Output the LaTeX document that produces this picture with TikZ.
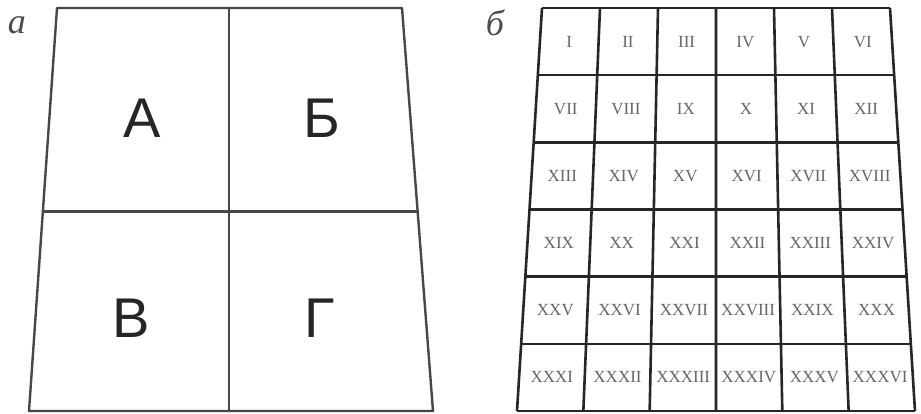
\documentclass[tikz,border=0pt]{standalone}
\usepackage{fontspec}
\setmainfont{Liberation Serif}
\newfontfamily\cyrsans{Liberation Sans}
\usetikzlibrary{calc}

\begin{document}
\begin{tikzpicture}[x=1pt, y=-1pt,
  frame/.style={line width=2.4pt, draw=black!72, line join=round},
  gridline/.style={line width=2.6pt, draw=black!85, line join=round},
  part/.style={font=\fontsize{56}{56}\cyrsans, text=black!85},
  tag/.style={font=\fontsize{36}{36}\selectfont\itshape, text=black!70},
  numeral/.style={font=\fontsize{17}{17}\selectfont, text=black!60, inner sep=0pt}
]
\useasboundingbox (0,0) rectangle (921,413);
\node[tag] (taga) at (17,25) {а};
\node[tag] (tagb) at (495,23) {б};
% a: four parts
\draw[frame] (57,8) -- (402,8) -- (433,411) -- (29,411) -- cycle;
\draw[frame] (229,8) -- (229,411);
\draw[frame] ($(57,8)!.505!(29,411)$) -- ($(402,8)!.505!(433,411)$);
\node[part] (pa) at (142,118) {А};
\node[part] (pb) at (322,118) {Б};
\node[part] (pv) at (131,318) {В};
\node[part] (pg) at (320,318) {Г};
% b: 6x6 grid
\foreach \i in {0,...,6}
  \draw[gridline] ({542+58*\i},8) -- ({517+66.33*\i},411);
\foreach \j in {0,...,6}
  \draw[gridline] ({542-25*\j/6},{8+67.17*\j}) -- ({890+25*\j/6},{8+67.17*\j});
\foreach \n [count=\k from 0] in {I,II,III,IV,V,VI,VII,VIII,IX,X,XI,XII,
    XIII,XIV,XV,XVI,XVII,XVIII,XIX,XX,XXI,XXII,XXIII,XXIV,
    XXV,XXVI,XXVII,XXVIII,XXIX,XXX,XXXI,XXXII,XXXIII,XXXIV,XXXV,XXXVI}{
  \pgfmathtruncatemacro\row{int(\k/6)}
  \pgfmathtruncatemacro\col{mod(\k,6)}
  \pgfmathsetmacro\t{(\row+.5)/6}
  \pgfmathsetmacro\xl{542-25*\t}
  \pgfmathsetmacro\xr{890+25*\t}
  \node[numeral] (num-\n) at ({\xl+(\col+.5)*(\xr-\xl)/6},{8+403*\t}) {\n};
}
\end{tikzpicture}
\end{document}
